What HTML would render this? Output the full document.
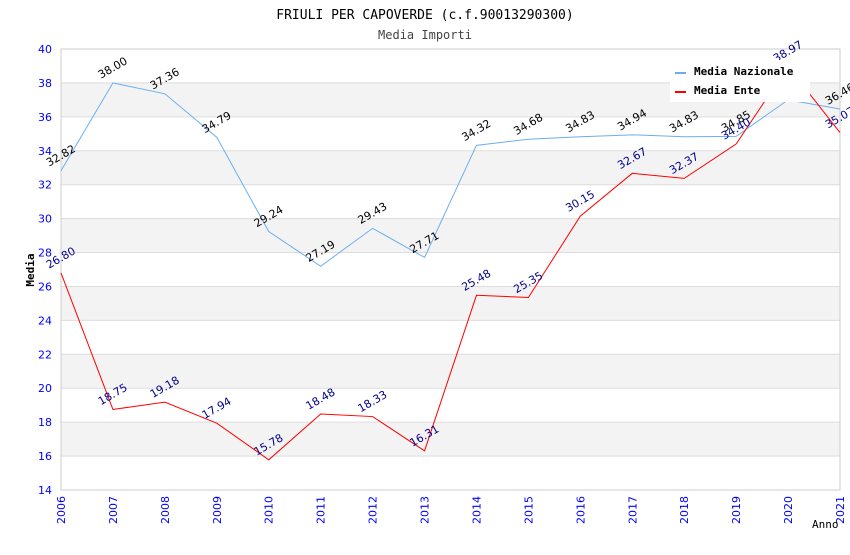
<!DOCTYPE html>
<html><head><meta charset="utf-8"><style>
body{margin:0;background:#fff}
svg{font-family:"DejaVu Sans","Liberation Sans",sans-serif}
</style></head><body>
<svg id="c" width="850" height="550">
<text x="425" y="19" text-anchor="middle" font-family="DejaVu Sans Mono,Liberation Mono,monospace" font-size="13">FRIULI PER CAPOVERDE (c.f.90013290300)</text>
<text x="425" y="39" text-anchor="middle" font-family="DejaVu Sans Mono,Liberation Mono,monospace" font-size="12" fill="#444">Media Importi</text>
<g id="grid"></g><g id="axes"></g><g id="series"></g>
<text x="34" y="270" transform="rotate(-90 34 270)" text-anchor="middle" font-family="DejaVu Sans Mono,monospace" font-size="11" font-weight="bold">Media</text>
<text x="812" y="528" font-family="DejaVu Sans Mono,monospace" font-size="11">Anno</text>
<g>
<rect x="670" y="60" width="140" height="42" fill="#fff"/>
<line x1="675" y1="73" x2="686" y2="73" stroke="#6aaff0" stroke-width="2"/>
<text x="694" y="75" font-family="DejaVu Sans Mono,monospace" font-size="11" font-weight="bold">Media Nazionale</text>
<line x1="675" y1="92" x2="686" y2="92" stroke="#f00" stroke-width="2"/>
<text x="694" y="94" font-family="DejaVu Sans Mono,monospace" font-size="11" font-weight="bold">Media Ente</text>
</g>
</svg>
<script>
const years=[2006,2007,2008,2009,2010,2011,2012,2013,2014,2015,2016,2017,2018,2019,2020,2021];
const nazionale=[32.82,38.00,37.36,34.79,29.24,27.19,29.43,27.71,34.32,34.68,34.83,34.94,34.83,34.85,37.0,36.46];
const ente=[26.80,18.75,19.18,17.94,15.78,18.48,18.33,16.31,25.48,25.35,30.15,32.67,32.37,34.40,38.97,35.07];
const yTicks=[14,16,18,20,22,24,26,28,30,32,34,36,38,40];
const X0=61,X1=840,Y0=490,Y1=49;
const x=i=>X0+(X1-X0)*i/(years.length-1);
const y=v=>Y0-(v-14)/(40-14)*(Y0-Y1);
const NS="http://www.w3.org/2000/svg";
function mk(p,t,a){const e=document.createElementNS(NS,t);for(const k in a)e.setAttribute(k,a[k]);p.appendChild(e);return e;}
const g=document.getElementById('grid'),ax=document.getElementById('axes'),s=document.getElementById('series');
for(let i=0;i<yTicks.length-1;i++){
 if(i%2==1){const r=mk(g,'rect',{x:X0,y:y(yTicks[i+1]),width:X1-X0,height:y(yTicks[i])-y(yTicks[i+1]),fill:'#f3f3f3'});
 
 }
}
yTicks.forEach(v=>{
 const l=mk(g,'line',{x1:X0,x2:X1,y1:y(v),y2:y(v),stroke:'#ddd'});
 
 
 const t=mk(ax,'text',{x:52,y:y(v)+4,'text-anchor':'end','font-size':11,fill:'#00f'});
 t.textContent=v;
 
 
});
mk(ax,'rect',{x:X0,y:Y1,width:X1-X0,height:Y0-Y1,fill:'none',stroke:'#ccc'});
years.forEach((yr,i)=>{
 const t=mk(ax,'text',{x:x(i)+4,y:Y0+6,transform:`rotate(-90 ${x(i)+4} ${Y0+6})`,'text-anchor':'end','font-size':11,fill:'#00f'});
 t.textContent=yr;
 
 
});
function draw(data,color,lab,name){
 const p=mk(s,'polyline',{points:data.map((v,i)=>x(i)+','+y(v)).join(' '),fill:'none',stroke:color,'stroke-width':1});
 
 
 data.forEach((v,i)=>{
  const px=x(i)-12,py=y(v)-4;
  const t=mk(s,'text',{x:px,y:py,transform:`rotate(-30 ${px} ${py})`,'font-size':11,fill:lab});
  t.textContent=v.toFixed(2);
  
  
 });
}
draw(nazionale,'#6aaff0','#000','nazionale');
draw(ente,'#f00','#00008b','ente');
</script>
</body></html>
